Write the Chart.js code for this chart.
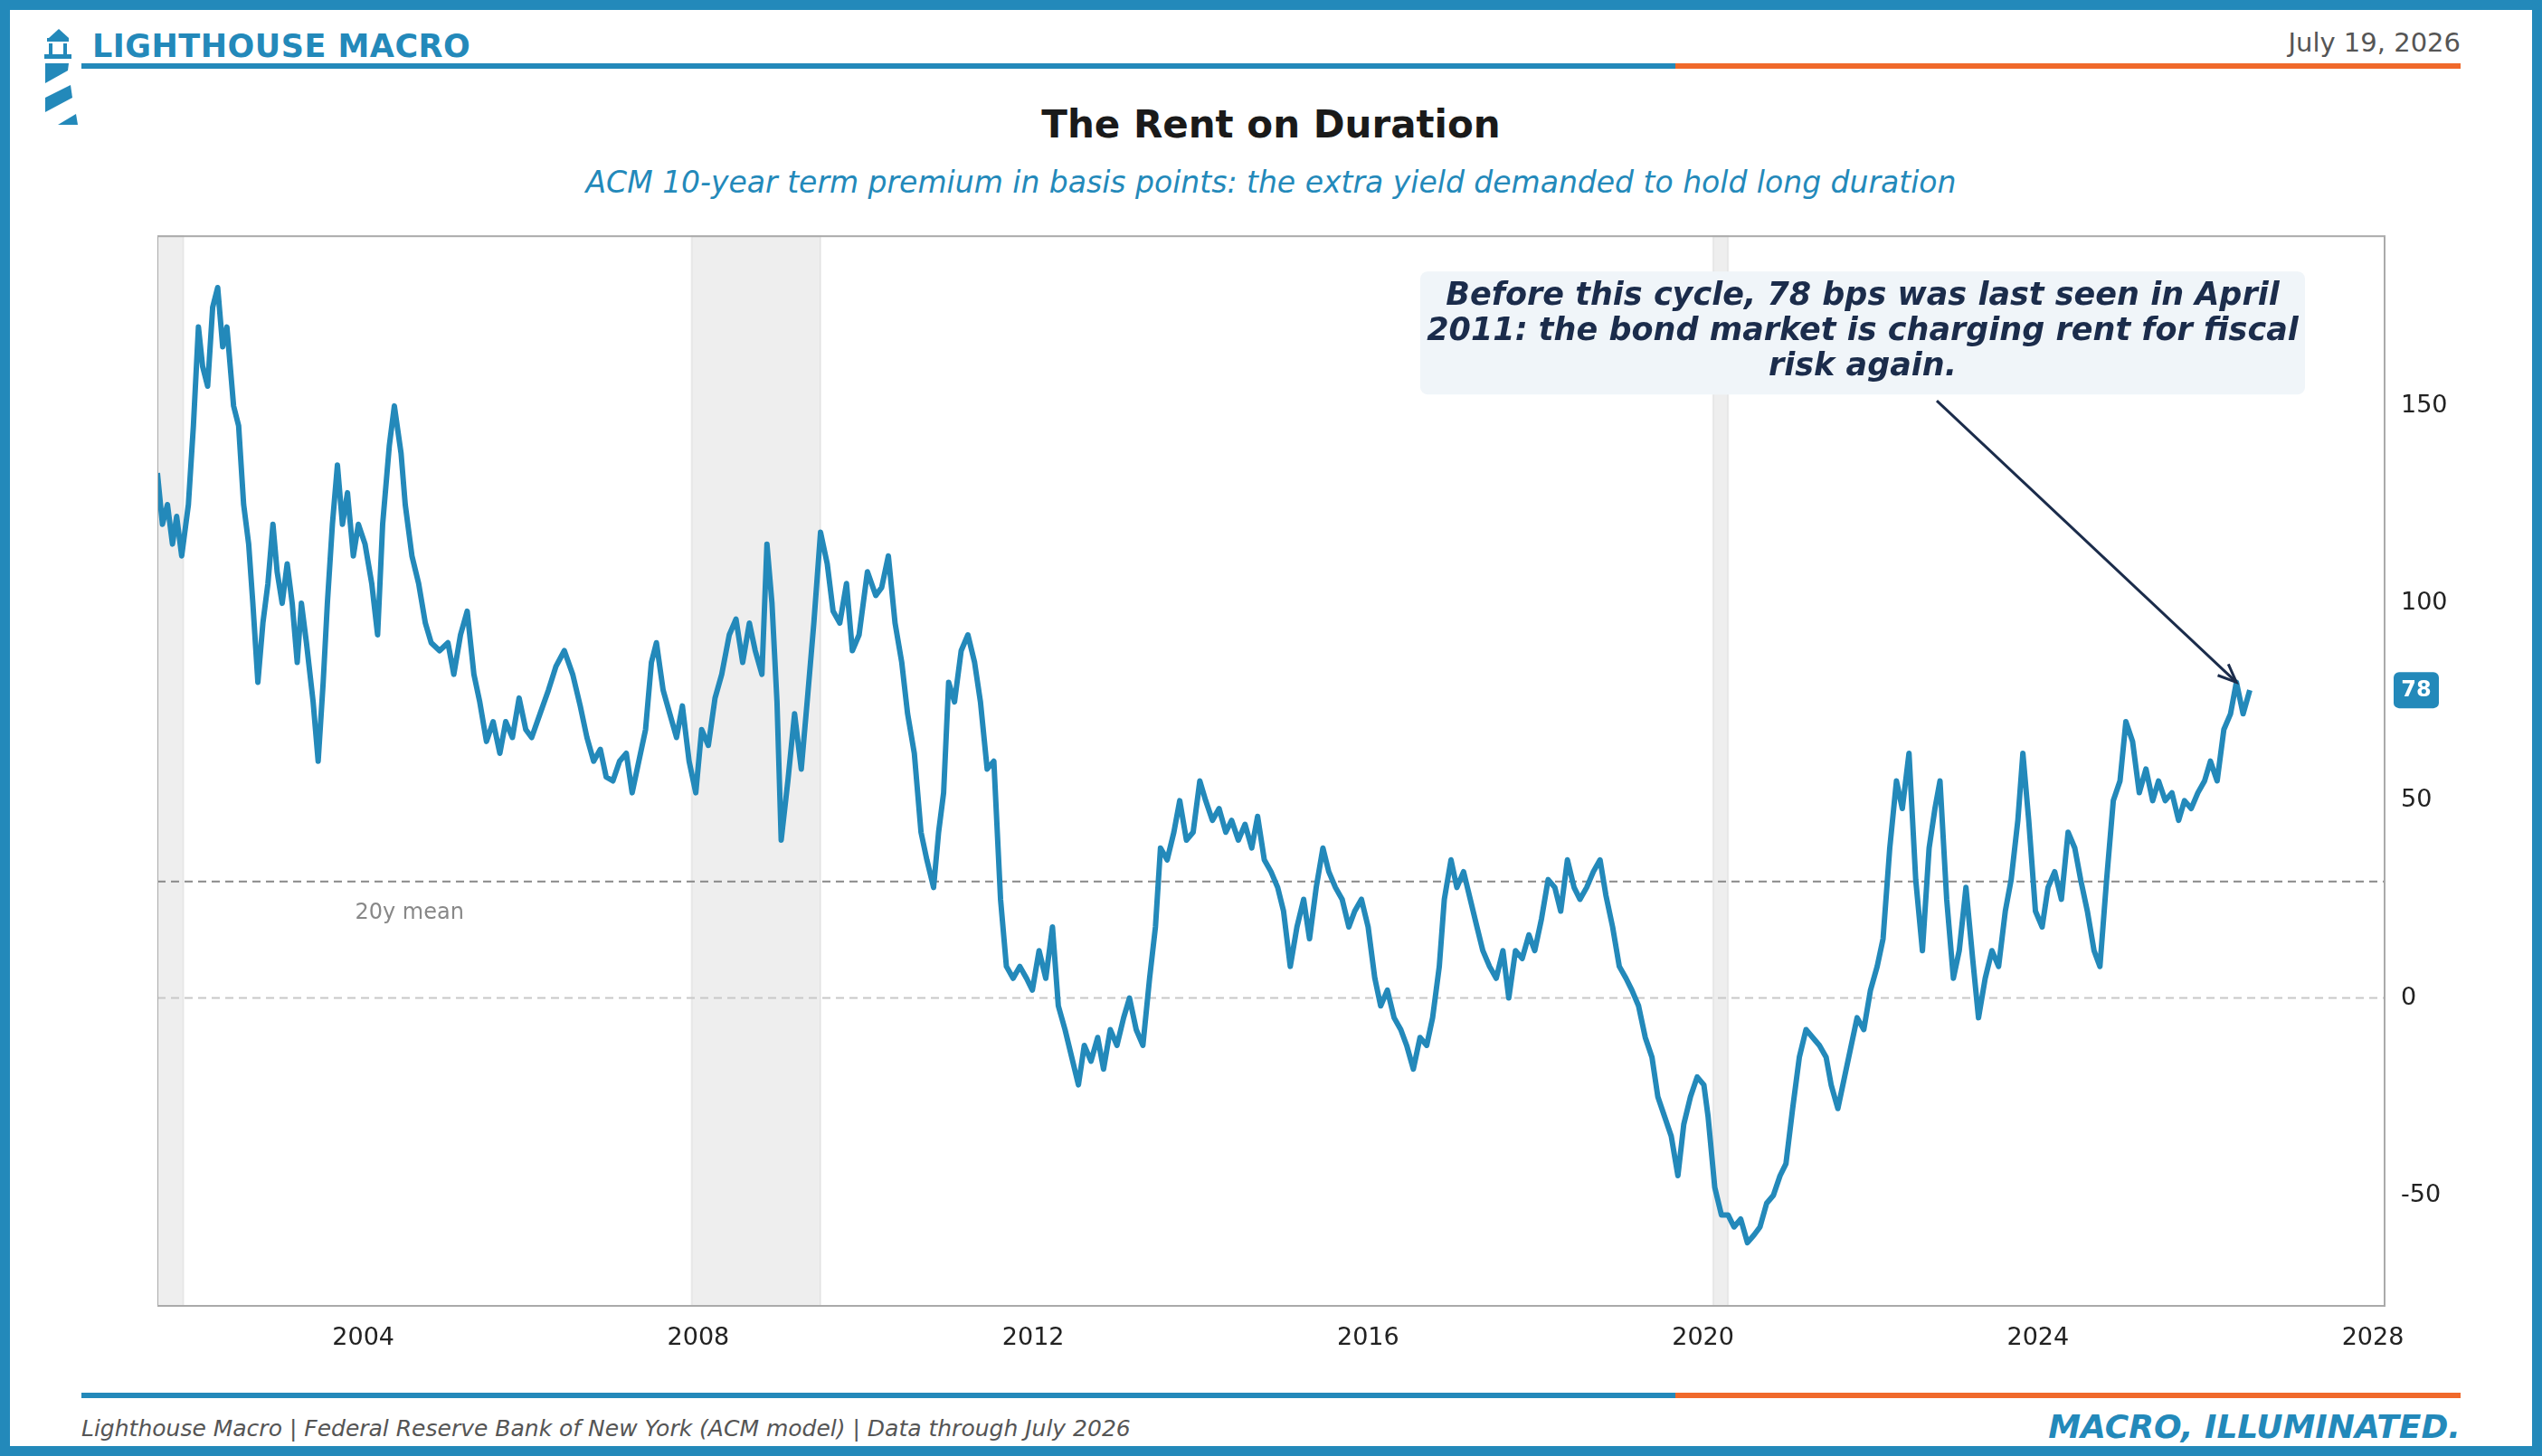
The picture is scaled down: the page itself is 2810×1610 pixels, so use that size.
<!DOCTYPE html>
<html>
<head>
<meta charset="utf-8">
<script src="https://cdn.jsdelivr.net/npm/chart.js@4.4.1/dist/chart.umd.min.js"></script>
<style>
  html, body { margin: 0; padding: 0; background: #fff; }
  body { width: 2810px; height: 1610px; position: relative; overflow: hidden; font-family: "DejaVu Sans", sans-serif; }
  .frame { position: absolute; left: 0; top: 0; width: 2810px; height: 1610px; box-sizing: border-box; border: 11px solid #2389ba; }
  .brand { position: absolute; left: 102px; top: 31px; font-size: 35px; font-weight: bold; color: #2389ba; letter-spacing: 0.5px; }
  .date { position: absolute; right: 90px; top: 30px; font-size: 29px; color: #555; }
  .rule { position: absolute; left: 90px; width: 2630px; height: 6px; background: linear-gradient(to right, #2389ba 0, #2389ba 67%, #f0692b 67%, #f0692b 100%); }
  .title { position: absolute; left: 0; width: 2810px; top: 113px; text-align: center; font-size: 42px; font-weight: bold; color: #1a1a1a; }
  .subtitle { position: absolute; left: 0; width: 2810px; top: 182px; text-align: center; font-size: 33px; font-style: italic; color: #2389ba; }
  .source { position: absolute; left: 90px; top: 1565px; font-size: 25px; font-style: italic; color: #555; }
  .tagline { position: absolute; right: 90px; top: 1557px; font-size: 36px; font-weight: bold; font-style: italic; color: #2389ba; }
  #wrap { position: absolute; left: 174px; top: 235px; width: 2586px; height: 1265px; }
</style>
</head>
<body>
<div class="frame"></div>
<svg style="position:absolute;left:40px;top:30px" width="50" height="112" viewBox="0 0 50 112">
  <polygon points="14,12 25,2 36,12" fill="#2389ba"/>
  <rect x="12" y="12" width="24" height="4" fill="#2389ba"/>
  <rect x="14" y="18" width="4" height="12" fill="#2389ba"/>
  <rect x="30" y="18" width="4" height="12" fill="#2389ba"/>
  <rect x="9" y="30" width="30" height="5" fill="#2389ba"/>
  <polygon points="10,40 36,40 35,48 10,62" fill="#2389ba"/>
  <polygon points="10,78 38,64 40,78 10,94" fill="#2389ba"/>
  <polygon points="24,108 44,96 46,108" fill="#2389ba"/>
</svg>
<div class="brand">LIGHTHOUSE MACRO</div>
<div class="date">July 19, 2026</div>
<div class="rule" style="top:70px"></div>
<div class="title">The Rent on Duration</div>
<div class="subtitle">ACM 10-year term premium in basis points: the extra yield demanded to hold long duration</div>
<div id="wrap"><canvas id="chart"></canvas></div>
<div class="rule" style="top:1540px"></div>
<div class="source">Lighthouse Macro | Federal Reserve Bank of New York (ACM model) | Data through July 2026</div>
<div class="tagline">MACRO, ILLUMINATED.</div>

<script>
// Term premium series (decimal year, bps)
const termDates = [
  2001.54,2001.60,2001.66,2001.72,2001.77,2001.83,2001.91,2001.97,2002.03,2002.08,2002.14,2002.20,2002.26,2002.32,2002.37,2002.45,2002.51,2002.57,2002.63,2002.68,
  2002.74,2002.80,2002.86,2002.92,2002.97,2003.03,2003.09,2003.15,2003.21,2003.26,2003.32,2003.40,2003.46,2003.52,2003.57,2003.63,2003.69,2003.75,2003.81,2003.88,
  2003.94,2004.02,2004.10,2004.17,2004.23,2004.31,2004.37,2004.45,2004.50,2004.58,2004.66,2004.74,2004.81,2004.91,2005.01,2005.08,2005.16,2005.24,2005.32,2005.39,
  2005.47,2005.55,2005.63,2005.70,2005.78,2005.86,2005.94,2006.01,2006.11,2006.21,2006.30,2006.40,2006.50,2006.59,2006.67,2006.75,2006.83,2006.90,2006.98,2007.06,
  2007.14,2007.21,2007.29,2007.37,2007.44,2007.50,2007.58,2007.66,2007.74,2007.81,2007.89,2007.97,2008.04,2008.12,2008.20,2008.28,2008.37,2008.45,2008.53,2008.61,
  2008.68,2008.76,2008.82,2008.88,2008.94,2008.99,2009.07,2009.15,2009.23,2009.30,2009.38,2009.46,2009.54,2009.61,2009.69,2009.77,2009.84,2009.92,2010.02,2010.12,
  2010.19,2010.27,2010.35,2010.43,2010.50,2010.58,2010.66,2010.73,2010.81,2010.87,2010.93,2010.99,2011.06,2011.14,2011.22,2011.30,2011.37,2011.45,2011.53,2011.61,
  2011.68,2011.76,2011.84,2011.92,2011.99,2012.07,2012.15,2012.23,2012.30,2012.38,2012.46,2012.54,2012.61,2012.69,2012.77,2012.84,2012.92,2013.00,2013.08,2013.15,
  2013.23,2013.31,2013.39,2013.46,2013.52,2013.60,2013.68,2013.75,2013.83,2013.91,2013.99,2014.06,2014.14,2014.22,2014.30,2014.37,2014.45,2014.53,2014.61,2014.68,
  2014.76,2014.84,2014.92,2014.99,2015.07,2015.15,2015.23,2015.30,2015.38,2015.46,2015.53,2015.61,2015.69,2015.77,2015.84,2015.92,2016.00,2016.08,2016.15,2016.23,
  2016.31,2016.39,2016.46,2016.54,2016.62,2016.70,2016.77,2016.85,2016.91,2016.99,2017.06,2017.14,2017.22,2017.30,2017.37,2017.45,2017.53,2017.61,2017.68,2017.76,
  2017.84,2017.92,2017.99,2018.07,2018.15,2018.23,2018.30,2018.38,2018.46,2018.53,2018.61,2018.69,2018.77,2018.84,2018.92,2019.00,2019.08,2019.15,2019.23,2019.31,
  2019.39,2019.46,2019.54,2019.62,2019.70,2019.77,2019.85,2019.93,2020.01,2020.06,2020.14,2020.22,2020.30,2020.37,2020.45,2020.53,2020.61,2020.68,2020.76,2020.84,
  2020.92,2020.99,2021.07,2021.15,2021.23,2021.31,2021.39,2021.47,2021.53,2021.61,2021.69,2021.77,2021.84,2021.92,2022.00,2022.08,2022.15,2022.23,2022.31,2022.38,
  2022.46,2022.54,2022.62,2022.70,2022.77,2022.83,2022.91,2022.99,2023.06,2023.14,2023.22,2023.29,2023.37,2023.45,2023.53,2023.61,2023.68,2023.76,2023.82,2023.89,
  2023.97,2024.05,2024.12,2024.20,2024.28,2024.36,2024.44,2024.51,2024.59,2024.67,2024.74,2024.82,2024.90,2024.98,2025.05,2025.13,2025.21,2025.29,2025.37,2025.44,
  2025.52,2025.60,2025.68,2025.75,2025.83,2025.91,2025.99,2026.06,2026.14,2026.22,2026.30,2026.37,2026.45,2026.53
];
const termBps = [
  133,120,125,115,122,112,125,145,170,160,155,175,180,165,170,150,145,125,115,100,
  80,95,105,120,108,100,110,100,85,100,90,75,60,80,100,120,135,120,128,112,
  120,115,105,92,120,140,150,138,125,112,105,95,90,88,90,82,92,98,82,75,
  65,70,62,70,66,76,68,66,72,78,84,88,82,74,66,60,63,56,55,60,
  62,52,60,68,85,90,78,72,66,74,60,52,68,64,76,82,92,96,85,95,
  88,82,115,100,75,40,55,72,58,75,95,118,110,98,95,105,88,92,108,102,
  104,112,95,85,72,62,42,35,28,42,52,80,75,88,92,85,75,58,60,25,
  8,5,8,5,2,12,5,18,-2,-8,-15,-22,-12,-16,-10,-18,-8,-12,-5,0,
  -8,-12,5,18,38,35,42,50,40,42,55,50,45,48,42,45,40,44,38,46,
  35,32,28,22,8,18,25,15,28,38,32,28,25,18,22,25,18,5,-2,2,
  -5,-8,-12,-18,-10,-12,-5,8,25,35,28,32,25,18,12,8,5,12,0,12,
  10,16,12,20,30,28,22,35,28,25,28,32,35,26,18,8,5,2,-2,-10,
  -15,-25,-30,-35,-45,-32,-25,-20,-22,-30,-48,-55,-55,-58,-56,-62,-60,-58,-52,-50,
  -45,-42,-28,-15,-8,-10,-12,-15,-22,-28,-20,-12,-5,-8,2,8,15,38,55,48,
  62,30,12,38,48,55,25,5,12,28,10,-5,5,12,8,22,30,45,62,45,
  22,18,28,32,25,42,38,30,22,12,8,30,50,55,70,65,52,58,50,55,
  50,52,45,50,48,52,55,60,55,68,72,80,72,78
];
const recessions = [[2001.54, 2001.85], [2007.92, 2009.46], [2020.12, 2020.30]];
const meanBps = 29.5;
const latestBps = 78;
const yTicks = [-50, 0, 50, 100, 150];
const xTicks = [2004, 2008, 2012, 2016, 2020, 2024, 2028];
const noteLines = ['Before this cycle, 78 bps was last seen in April', '2011: the bond market is charging rent for fiscal', 'risk again.'];

const BLUE = '#2389ba';
const NAVY = '#1b2c4b';

const overlays = {
    id: 'overlays',
    beforeDatasetsDraw(chart) {
        const { ctx, chartArea: a, scales: { x, y } } = chart;
        ctx.save();
        // recession shading
        recessions.forEach(([s, e]) => {
            const x0 = Math.max(x.getPixelForValue(s), a.left);
            const x1 = x.getPixelForValue(e);
            ctx.fillStyle = 'rgba(0,0,0,0.065)';
            ctx.fillRect(x0, a.top, x1 - x0, a.bottom - a.top);
            ctx.strokeStyle = 'rgba(0,0,0,0.06)';
            ctx.lineWidth = 2;
            ctx.strokeRect(x0, a.top, x1 - x0, a.bottom - a.top);
        });
        // zero line
        ctx.setLineDash([9, 6]);
        ctx.lineWidth = 2;
        ctx.strokeStyle = '#c8c8c8';
        const y0 = y.getPixelForValue(0);
        ctx.beginPath(); ctx.moveTo(a.left, y0); ctx.lineTo(a.right, y0); ctx.stroke();
        // mean line
        ctx.strokeStyle = '#888';
        const ym = y.getPixelForValue(meanBps);
        ctx.beginPath(); ctx.moveTo(a.left, ym); ctx.lineTo(a.right, ym); ctx.stroke();
        ctx.setLineDash([]);
        ctx.fillStyle = '#888';
        ctx.font = '24px "DejaVu Sans"';
        ctx.textBaseline = 'middle';
        ctx.fillText('20y mean', x.getPixelForValue(2003.9), y.getPixelForValue(meanBps - 8));
        ctx.restore();
    },
    afterDraw(chart) {
        const { ctx, chartArea: a, scales: { x, y } } = chart;
        ctx.save();
        // plot frame
        ctx.strokeStyle = '#aaa';
        ctx.lineWidth = 2;
        ctx.strokeRect(a.left, a.top, a.right - a.left, a.bottom - a.top);
        // annotation box, placed relative to the plot area
        const bx = a.left + 1396, by = a.top + 39, bw = 978, bh = 136;
        ctx.fillStyle = '#f0f5f9';
        ctx.beginPath();
        ctx.roundRect(bx, by, bw, bh, 8);
        ctx.fill();
        ctx.fillStyle = NAVY;
        ctx.font = 'italic bold 35px "DejaVu Sans"';
        ctx.textAlign = 'center';
        ctx.textBaseline = 'middle';
        noteLines.forEach((t, i) => ctx.fillText(t, bx + bw / 2, by + 28 + i * 39));
        // arrow to latest
        const sx = a.left + 1967, sy = a.top + 182;
        const ex = x.getPixelForValue(2026.37), ey = y.getPixelForValue(80);
        ctx.strokeStyle = NAVY;
        ctx.lineWidth = 3;
        ctx.beginPath(); ctx.moveTo(sx, sy); ctx.lineTo(ex, ey); ctx.stroke();
        const ang = Math.atan2(ey - sy, ex - sx);
        ctx.beginPath();
        ctx.moveTo(ex - 22 * Math.cos(ang - 0.4), ey - 22 * Math.sin(ang - 0.4));
        ctx.lineTo(ex, ey);
        ctx.lineTo(ex - 22 * Math.cos(ang + 0.4), ey - 22 * Math.sin(ang + 0.4));
        ctx.stroke();
        // latest value badge
        const ly = y.getPixelForValue(latestBps);
        ctx.fillStyle = BLUE;
        ctx.beginPath();
        ctx.roundRect(a.right + 10, ly - 20, 50, 40, 6);
        ctx.fill();
        ctx.fillStyle = '#fff';
        ctx.font = 'bold 24px "DejaVu Sans"';
        ctx.fillText(String(latestBps), a.right + 35, ly + 1);
        ctx.restore();
    }
};

new Chart(document.getElementById('chart'), {
    type: 'line',
    data: {
        datasets: [{
            data: termDates.map((d, i) => ({ x: d, y: termBps[i] })),
            borderColor: BLUE,
            borderWidth: 6,
            pointRadius: 0,
            tension: 0,
            borderJoinStyle: 'round'
        }]
    },
    options: {
        responsive: true,
        maintainAspectRatio: false,
        animation: false,
        layout: { padding: 0 },
        plugins: { legend: { display: false }, tooltip: { enabled: false } },
        scales: {
            x: {
                type: 'linear',
                min: 2001.54,
                max: 2028.14,
                grid: { display: false },
                border: { display: false },
                afterBuildTicks: s => { s.ticks = xTicks.map(v => ({ value: v })); },
                afterFit: s => { s.height = 56; },
                ticks: { color: '#222', font: { size: 27, family: 'DejaVu Sans' }, padding: 12, callback: v => String(v) }
            },
            y: {
                position: 'right',
                min: -78,
                max: 193,
                grid: { display: false },
                border: { display: false },
                afterBuildTicks: s => { s.ticks = yTicks.map(v => ({ value: v })); },
                afterFit: s => { s.width = 124; },
                ticks: { color: '#222', font: { size: 27, family: 'DejaVu Sans' }, padding: 10, callback: v => String(v) }
            }
        }
    },
    plugins: [overlays]
});
</script>
</body>
</html>
